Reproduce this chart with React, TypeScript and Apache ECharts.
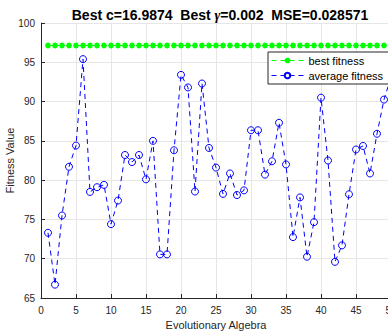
import React, { useEffect, useRef } from "react";
import * as echarts from "echarts";

const generations: number[] = Array.from({ length: 50 }, (_, i) => i + 1);
const bestFitness: number[] = new Array(50).fill(97.14);
const averageFitness: number[] = [
  73.3, 66.7, 75.5, 81.7, 84.4, 95.4, 78.5, 79.1, 79.4, 74.4,
  77.4, 83.2, 82.3, 83.2, 80.1, 85.0, 70.55, 70.55, 83.8, 93.4,
  91.8, 78.55, 92.3, 84.1, 81.6, 78.25, 80.85, 78.1, 78.7, 86.35,
  86.35, 80.7, 82.4, 87.3, 82.0, 72.75, 77.8, 70.25, 74.65, 90.5,
  82.5, 69.6, 71.7, 78.2, 83.9, 84.35, 80.85, 85.9, 90.25, 93.1,
];
const seriesNames = ["best fitness", "average fitness"];
const titleText = "{b|Best c=16.9874  Best }{g|γ}{b|=0.002  MSE=0.028571}";
const xName = "Evolutionary Algebra";
const yName = "Fitness Value";

const FONT = "'Liberation Sans', Arial, sans-serif";
const TXT = "#262626";
const ASTERISK = "path://M0,5L10,5M5,0L5,10M1.5,1.5L8.5,8.5M8.5,1.5L1.5,8.5";

export default function App() {
  const ref = useRef<HTMLDivElement>(null);
  useEffect(() => {
    if (!ref.current) return;
    const chart = echarts.init(ref.current, undefined, { renderer: "svg" });
    chart.setOption({
      animation: false,
      backgroundColor: "#ffffff",
      title: {
        text: titleText,
        left: 215,
        top: 3,
        textAlign: "center",
        textStyle: {
          fontFamily: FONT,
          color: "#000",
          rich: {
            b: { fontFamily: FONT, fontWeight: "bold", fontSize: 14, color: "#000" },
            g: { fontFamily: "'Liberation Serif', serif", fontStyle: "italic", fontSize: 14, color: "#000" },
          },
        },
      },
      grid: { left: 41, right: -3, top: 23, bottom: 34, containLabel: false, outerBoundsMode: "none" },
      legend: {
        orient: "vertical",
        left: 268,
        top: 52,
        backgroundColor: "#ffffff",
        borderColor: TXT,
        borderWidth: 1,
        borderRadius: 0,
        padding: [3, 6, 3, 3],
        itemGap: 4,
        itemWidth: 32,
        itemHeight: 7,
        lineStyle: { width: 1 },
        textStyle: { fontFamily: FONT, fontSize: 11, color: "#000" },
        data: seriesNames,
      },
      xAxis: {
        type: "value",
        min: 0,
        max: 50,
        interval: 5,
        name: xName,
        nameLocation: "middle",
        nameGap: 21,
        nameMoveOverlap: false,
        nameTextStyle: { fontFamily: FONT, fontSize: 11, color: TXT },
        axisLine: { show: true, lineStyle: { color: TXT, width: 1 } },
        axisTick: { show: true, inside: true, length: 4, lineStyle: { color: TXT } },
        axisLabel: { fontFamily: FONT, fontSize: 10, color: TXT, margin: 7, hideOverlap: false },
        splitLine: { show: true, lineStyle: { color: "#e6e6e6", width: 1 } },
      },
      yAxis: {
        type: "value",
        min: 65,
        max: 100,
        interval: 5,
        name: yName,
        nameLocation: "middle",
        nameGap: 26,
        nameMoveOverlap: false,
        nameTextStyle: { fontFamily: FONT, fontSize: 11, color: TXT },
        axisLine: { show: true, lineStyle: { color: TXT, width: 1 } },
        axisTick: { show: true, inside: true, length: 4, lineStyle: { color: TXT } },
        axisLabel: { fontFamily: FONT, fontSize: 10, color: TXT, margin: 6 },
        splitLine: { show: true, lineStyle: { color: "#e6e6e6", width: 1 } },
      },
      series: [
        {
          name: seriesNames[0],
          type: "line",
          data: generations.map((g, i) => [g, bestFitness[i]]),
          symbol: ASTERISK,
          symbolSize: 6,
          showAllSymbol: true,
          clip: false,
          lineStyle: { color: "#00ff00", width: 1, type: [5, 4] },
          itemStyle: { color: "#00ff00", borderColor: "#00ff00", borderWidth: 1.5 },
          z: 3,
        },
        {
          name: seriesNames[1],
          type: "line",
          data: generations.map((g, i) => [g, averageFitness[i]]),
          symbol: "circle",
          symbolSize: 7,
          showAllSymbol: true,
          clip: false,
          lineStyle: { color: "#0000ff", width: 1, type: [5, 4] },
          itemStyle: { color: "rgba(0,0,0,0)", borderColor: "#0000ff", borderWidth: 1 },
          z: 2,
        },
      ],
    });
    return () => chart.dispose();
  }, []);
  return <div ref={ref} style={{ width: 388, height: 332, position: "absolute", left: 0, top: 0 }} />;
}
